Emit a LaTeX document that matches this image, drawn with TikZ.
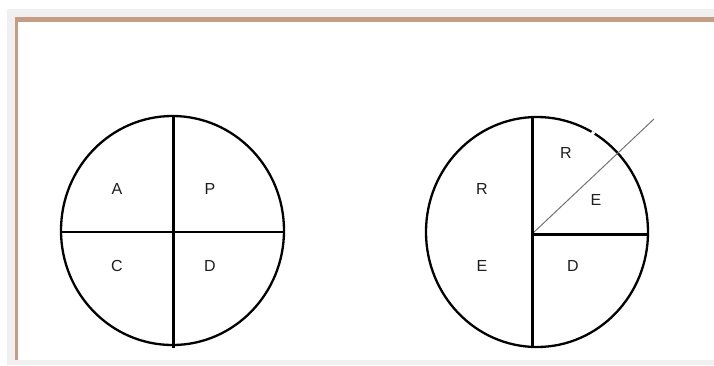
\documentclass[tikz,border=0pt]{standalone}
\usepackage{fontspec}
\setmainfont{Liberation Sans}
\definecolor{framegray}{RGB}{240,240,240}
\definecolor{tan}{RGB}{196,158,132}
\definecolor{inktext}{RGB}{30,30,30}
\begin{document}
\begin{tikzpicture}[x=1pt,y=-1pt,
  rim/.style={line width=2.3pt,black},
  divthick/.style={line width=3pt,black},
  divmid/.style={line width=2.6pt,black},
  thin/.style={line width=1pt,black!55},
  lbl/.style={font=\fontsize{16}{16}\selectfont,text=inktext,inner sep=0pt}]
\useasboundingbox (0,0) rectangle (714,365);
% frame
\fill[white] (0,0) rectangle (714,365);
\fill[framegray] (7,9) rectangle (714,365);
\fill[white] (15,17) rectangle (714,360);
\fill[tan] (15,17) rectangle (714,22);
\fill[tan] (15,17) rectangle (17.5,360);
% left circle
\coordinate (lc) at (172.5,230.5);
\draw[rim] (lc) ellipse [x radius=111.5, y radius=114.5];
\draw[divmid] (61,232) -- (284,232);
\draw[divthick] (173,116) -- (173,348);
\node[lbl] (a) at (117,189) {A};
\node[lbl] (p) at (210,189) {P};
\node[lbl] (c) at (117,266) {C};
\node[lbl] (d) at (210,266) {D};
% right circle
\coordinate (rc) at (537,232);
\coordinate (rctr) at (532,234);
\coordinate (rend) at (654,119);
\draw[rim] (rc) ellipse [x radius=111, y radius=115];
\draw[white,line width=2.8pt] (591.5,132.2) -- (594.5,133.8);
\draw[thin] (rctr) -- (rend);
\draw[divthick] (532,117) -- (532,348);
\draw[divthick] (rctr) -- (648,234);
\node[lbl] (r1) at (482,189) {R};
\node[lbl] (e1) at (482,266) {E};
\node[lbl] (r2) at (566,153) {R};
\node[lbl] (e2) at (596,200) {E};
\node[lbl] (d2) at (573,266) {D};
\end{tikzpicture}
\end{document}
